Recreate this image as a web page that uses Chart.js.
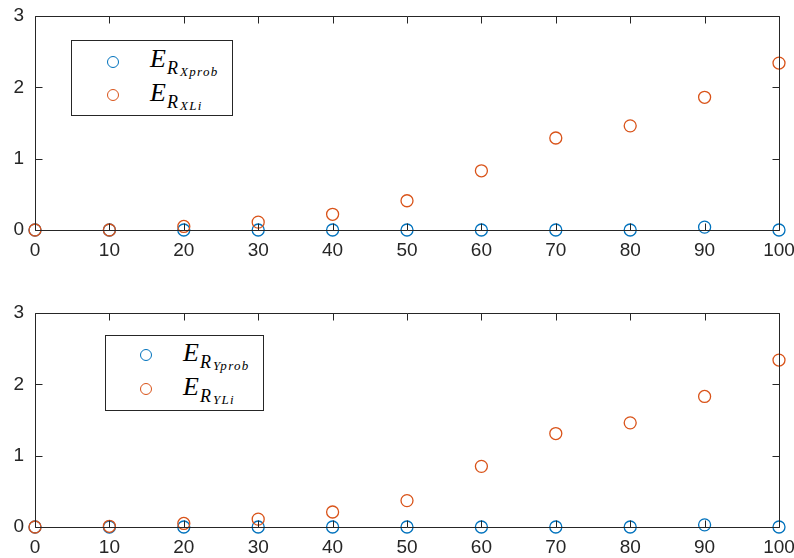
<!DOCTYPE html>
<html>
<head>
<meta charset="utf-8">
<script src="https://cdn.jsdelivr.net/npm/chart.js@4/dist/chart.umd.min.js"></script>
<style>
  body { margin: 0; background: #fff; }
  #wrap { position: relative; width: 794px; height: 558px; overflow: hidden; background: #fff; }
  canvas { position: absolute; left: 0; }
  .legend { position: absolute; background: #fff; border: 1px solid #262626; }
  .legend span {
    position: absolute; line-height: 1; white-space: nowrap; color: #000;
    font-family: "Liberation Serif", "DejaVu Serif", serif; font-style: italic;
  }
  .legend .e { font-size: 26px; }
  .legend .r { font-size: 18px; }
  .legend .s { font-size: 13px; letter-spacing: 1.3px; }
  .mark { position: absolute; width: 12px; height: 12px; border-radius: 50%; border: 1.5px solid; box-sizing: border-box; }
</style>
</head>
<body>
<div id="wrap">
  <canvas id="topChart" width="794" height="261" style="top:0"></canvas>
  <canvas id="bottomChart" width="794" height="261" style="top:297px"></canvas>

  <div class="legend" style="left:71px; top:40px; width:160px; height:74px;">
    <div class="mark" style="left:35px; top:15px; border-color:#0072BD"></div>
    <span class="e" style="left:78px; top:5px">E</span>
    <span class="r" style="left:95px; top:18px">R</span>
    <span class="s" style="left:108px; top:24px">Xprob</span>
    <div class="mark" style="left:35px; top:48px; border-color:#D95319"></div>
    <span class="e" style="left:78px; top:39px">E</span>
    <span class="r" style="left:95px; top:52px">R</span>
    <span class="s" style="left:108px; top:58px">XLi</span>
  </div>
  <div class="legend" style="left:105px; top:335px; width:157px; height:74px;">
    <div class="mark" style="left:34px; top:13px; border-color:#0072BD"></div>
    <span class="e" style="left:77px; top:4px">E</span>
    <span class="r" style="left:94px; top:17px">R</span>
    <span class="s" style="left:107px; top:23px">Yprob</span>
    <div class="mark" style="left:34px; top:47px; border-color:#D95319"></div>
    <span class="e" style="left:77px; top:38px">E</span>
    <span class="r" style="left:94px; top:51px">R</span>
    <span class="s" style="left:107px; top:57px">YLi</span>
  </div>
</div>

<script>
// sample positions along x
const xValues = [0, 10, 20, 30, 40, 50, 60, 70, 80, 90, 100];

// upper panel: X errors
const errXProb = [0, 0, 0, 0, 0, 0, 0, 0, 0, 0.04, 0];
const errXLi   = [0, 0, 0.05, 0.11, 0.22, 0.41, 0.83, 1.29, 1.46, 1.86, 2.34];

// lower panel: Y errors
const errYProb = [0, 0, 0, 0, 0, 0, 0, 0, 0, 0.03, 0];
const errYLi   = [0, 0.01, 0.05, 0.11, 0.21, 0.37, 0.85, 1.31, 1.46, 1.83, 2.34];

const xTicks = [0, 10, 20, 30, 40, 50, 60, 70, 80, 90, 100];
const yTicks = [0, 1, 2, 3];

const BLUE = "#0072BD";
const ORANGE = "#D95319";
const AXIS = "#262626";

// draws the full axes box with inward ticks on all four sides
const boxTicks = {
  id: "boxTicks",
  afterDraw(chart) {
    const { ctx, chartArea: a, scales } = chart;
    const len = 7;
    ctx.save();
    ctx.strokeStyle = AXIS;
    ctx.lineWidth = 1;
    const L = Math.round(a.left) + 0.5, R = Math.round(a.right) + 0.5;
    const T = Math.round(a.top) + 0.5, B = Math.round(a.bottom) + 0.5;
    ctx.beginPath();
    ctx.rect(L, T, R - L, B - T);
    xTicks.forEach(v => {
      const px = Math.round(scales.x.getPixelForValue(v)) + 0.5;
      ctx.moveTo(px, B); ctx.lineTo(px, B - len);
      ctx.moveTo(px, T); ctx.lineTo(px, T + len);
    });
    yTicks.forEach(v => {
      const py = Math.round(scales.y.getPixelForValue(v)) + 0.5;
      ctx.moveTo(L, py); ctx.lineTo(L + len, py);
      ctx.moveTo(R, py); ctx.lineTo(R - len, py);
    });
    ctx.stroke();
    ctx.restore();
  }
};

function series(vals) {
  return xValues.map((x, i) => ({ x: x, y: vals[i] }));
}

function makeChart(id, probVals, liVals) {
  const font = { family: "'Liberation Sans', Arial, sans-serif", size: 19 };
  return new Chart(document.getElementById(id), {
    type: "scatter",
    data: {
      datasets: [
        {
          data: series(probVals),
          borderColor: BLUE, backgroundColor: "rgba(0,0,0,0)",
          pointRadius: 6, pointBorderWidth: 1.3, pointStyle: "circle",
          clip: false, order: 1
        },
        {
          data: series(liVals),
          borderColor: ORANGE, backgroundColor: "rgba(0,0,0,0)",
          pointRadius: 6, pointBorderWidth: 1.3, pointStyle: "circle",
          clip: false, order: 0
        }
      ]
    },
    options: {
      responsive: false,
      animation: false,
      devicePixelRatio: 1,
      layout: { padding: { top: 16, right: 15, left: 0, bottom: 0 } },
      plugins: { legend: { display: false }, tooltip: { enabled: false } },
      scales: {
        x: {
          type: "linear", min: 0, max: 100,
          afterBuildTicks: s => { s.ticks = xTicks.map(v => ({ value: v })); },
          // fixed band height; end labels may hang past the plot edge
          afterFit: s => { s.height = 31; s.paddingLeft = 0; s.paddingRight = 0; },
          grid: { display: false, drawTicks: false },
          border: { display: false },
          ticks: { color: AXIS, font: font, padding: 9, maxRotation: 0 }
        },
        y: {
          min: 0, max: 3,
          afterBuildTicks: s => { s.ticks = yTicks.map(v => ({ value: v })); },
          afterFit: s => { s.width = 35; s.paddingTop = 0; s.paddingBottom = 0; },
          grid: { display: false, drawTicks: false },
          border: { display: false },
          ticks: { color: AXIS, font: font, padding: 11 }
        }
      }
    },
    plugins: [boxTicks]
  });
}

makeChart("topChart", errXProb, errXLi);
makeChart("bottomChart", errYProb, errYLi);
</script>
</body>
</html>
